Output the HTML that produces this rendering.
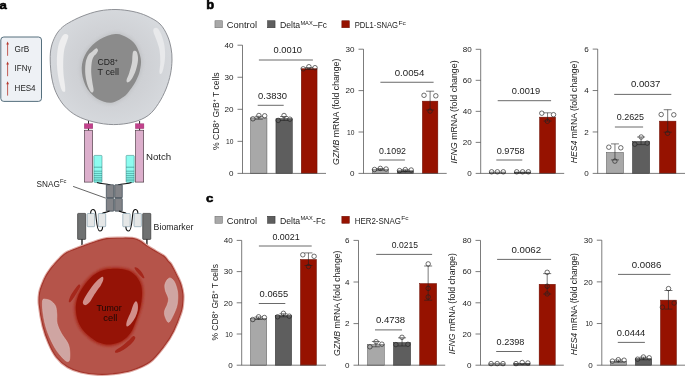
<!DOCTYPE html>
<html><head><meta charset="utf-8"><title>Figure</title>
<style>
html,body{margin:0;padding:0;background:#fff;}
body{width:685px;height:377px;overflow:hidden;font-family:"Liberation Sans",sans-serif;}
svg{display:block;font-family:"Liberation Sans",sans-serif;}
</style></head><body>
<svg width="685" height="377" viewBox="0 0 685 377" style="opacity:0.999">
<rect width="685" height="377" fill="#fff"/>
<defs>
<radialGradient id="tcg" cx="0.5" cy="0.5" r="0.55"><stop offset="0" stop-color="#c6c8cb"/><stop offset="0.55" stop-color="#cfd1d5"/><stop offset="1" stop-color="#d7dade"/></radialGradient>
<radialGradient id="tug" cx="0.5" cy="0.5" r="0.55"><stop offset="0" stop-color="#a8372c"/><stop offset="0.6" stop-color="#b5544a"/><stop offset="1" stop-color="#b5544a"/></radialGradient>
<filter id="bl" x="-20%" y="-20%" width="140%" height="140%"><feGaussianBlur stdDeviation="1.6"/></filter>
<filter id="bl3" x="-20%" y="-20%" width="140%" height="140%"><feGaussianBlur stdDeviation="0.9"/></filter>
<filter id="bl4" x="-30%" y="-20%" width="160%" height="140%"><feGaussianBlur stdDeviation="0.55"/></filter>
<filter id="bl2" x="-20%" y="-20%" width="140%" height="140%"><feGaussianBlur stdDeviation="0.5"/></filter>
</defs>
<rect x="0.8" y="37" width="40.7" height="64.4" rx="3" ry="3" fill="#eef1f5" stroke="#44606f" stroke-width="0.9"/>
<path d="M7.6 55.8V43.1" stroke="#b5372c" stroke-width="0.8" fill="none"/><path d="M7.6 41.6L6.3 44.6H8.9Z" fill="#b5372c"/>
<path d="M7.6 76.2V63.1" stroke="#b5372c" stroke-width="0.8" fill="none"/><path d="M7.6 61.6L6.3 64.6H8.9Z" fill="#b5372c"/>
<path d="M7.6 95.6V82.8" stroke="#b5372c" stroke-width="0.8" fill="none"/><path d="M7.6 81.3L6.3 84.3H8.9Z" fill="#b5372c"/>
<text x="14.6" y="51.7" font-size="8.6" fill="#222" textLength="14.6" lengthAdjust="spacingAndGlyphs">GrB</text>
<text x="14.6" y="71" font-size="8.6" fill="#222" textLength="16.8" lengthAdjust="spacingAndGlyphs">IFNγ</text>
<text x="14.6" y="91" font-size="8.6" fill="#222" textLength="21" lengthAdjust="spacingAndGlyphs">HES4</text>
<path d="M116.0 9.5C121.7 9.6 127.8 10.4 133.0 11.5C138.2 12.6 142.5 13.9 147.0 16.0C151.5 18.1 156.6 20.7 160.0 24.0C163.4 27.3 165.7 32.0 167.5 36.0C169.3 40.0 170.2 44.0 171.0 48.0C171.8 52.0 172.1 55.7 172.0 60.0C171.9 64.3 171.5 69.2 170.5 74.0C169.5 78.8 168.0 84.1 166.0 89.0C164.0 93.9 161.4 99.1 158.5 103.5C155.6 107.9 152.6 112.3 148.3 115.4C144.1 118.5 138.8 120.7 133.0 122.2C127.2 123.7 120.1 124.6 113.6 124.6C107.1 124.6 100.1 123.5 94.0 122.0C87.9 120.5 81.7 118.5 76.8 115.8C71.9 113.1 68.0 109.9 64.5 106.0C61.0 102.1 58.1 97.2 56.0 92.5C53.9 87.8 52.8 83.4 51.8 78.0C50.8 72.6 50.3 65.2 50.2 60.0C50.1 54.8 50.4 51.0 51.3 47.0C52.1 43.0 53.7 39.4 55.3 36.3C56.9 33.2 58.8 30.7 61.0 28.5C63.2 26.3 65.1 24.9 68.6 22.9C72.1 20.9 76.9 18.3 82.0 16.3C87.1 14.3 93.3 12.1 99.0 11.0C104.7 9.9 110.3 9.4 116.0 9.5Z" fill="url(#tcg)" stroke="#84878c" stroke-width="0.9"/>
<path d="M65.0 34.0C66.1 33.8 68.0 34.5 68.3 35.8C68.6 37.0 67.5 39.1 66.8 41.5C66.1 43.9 64.8 46.6 64.2 50.0C63.6 53.4 63.3 58.0 63.2 62.0C63.1 66.0 63.2 70.0 63.5 74.0C63.8 78.0 64.8 83.1 65.0 86.0C65.2 88.9 65.5 90.8 65.0 91.5C64.5 92.2 63.0 92.1 62.0 90.5C61.0 88.9 60.1 85.4 59.3 82.0C58.5 78.6 57.7 74.0 57.3 70.0C56.9 66.0 56.7 62.0 56.9 58.0C57.1 54.0 57.5 49.5 58.3 46.0C59.1 42.5 60.5 39.3 61.6 37.3C62.7 35.3 63.9 34.2 65.0 34.0Z" fill="#eeeeef" filter="url(#bl4)"/>
<path d="M154.0 28.5C154.7 27.9 156.2 27.2 157.5 28.3C158.8 29.4 160.3 32.0 161.5 35.0C162.7 38.0 163.9 42.2 164.5 46.0C165.1 49.8 165.2 54.3 165.0 58.0C164.8 61.7 164.1 65.4 163.5 68.0C162.9 70.6 162.2 72.8 161.5 73.5C160.8 74.2 159.7 74.4 159.5 72.5C159.3 70.6 160.3 65.8 160.3 62.0C160.3 58.2 160.1 53.7 159.5 50.0C158.9 46.3 157.5 43.0 156.5 40.0C155.5 37.0 153.9 33.9 153.5 32.0C153.1 30.1 153.3 29.1 154.0 28.5Z" fill="#e8e9eb" filter="url(#bl4)"/>
<path d="M115.5 34.0C120.1 33.6 123.6 35.6 127.0 37.5C130.4 39.4 133.5 41.8 135.8 45.3C138.1 48.8 140.1 54.5 140.8 58.8C141.5 63.1 140.6 67.2 139.8 71.0C139.0 74.8 137.4 78.1 135.8 81.3C134.2 84.5 132.1 87.4 130.0 90.0C127.9 92.6 126.6 94.9 123.4 97.0C120.2 99.1 115.5 102.5 111.0 102.7C106.5 102.9 100.6 101.0 96.4 98.2C92.2 95.4 88.0 90.9 85.6 85.8C83.1 80.7 81.5 73.4 81.7 67.8C81.9 62.2 83.7 56.7 86.7 52.0C89.7 47.3 94.8 42.6 99.6 39.6C104.4 36.6 110.9 34.4 115.5 34.0Z" fill="#c3c5c8" filter="url(#bl)" opacity="0.9" transform="translate(111.5 68) scale(1.06) translate(-111.5 -68)"/>
<path d="M115.5 34.0C120.1 33.6 123.6 35.6 127.0 37.5C130.4 39.4 133.5 41.8 135.8 45.3C138.1 48.8 140.1 54.5 140.8 58.8C141.5 63.1 140.6 67.2 139.8 71.0C139.0 74.8 137.4 78.1 135.8 81.3C134.2 84.5 132.1 87.4 130.0 90.0C127.9 92.6 126.6 94.9 123.4 97.0C120.2 99.1 115.5 102.5 111.0 102.7C106.5 102.9 100.6 101.0 96.4 98.2C92.2 95.4 88.0 90.9 85.6 85.8C83.1 80.7 81.5 73.4 81.7 67.8C81.9 62.2 83.7 56.7 86.7 52.0C89.7 47.3 94.8 42.6 99.6 39.6C104.4 36.6 110.9 34.4 115.5 34.0Z" fill="#8b8b8b"/>
<path d="M96.3 48.3C97.2 48.1 98.0 49.6 98.0 50.5C98.0 51.4 97.0 52.8 96.3 53.8C95.6 54.8 94.5 55.1 93.8 56.5C93.0 57.9 92.2 59.4 91.8 62.0C91.4 64.6 91.1 68.7 91.2 72.0C91.3 75.3 91.9 78.9 92.3 82.0C92.7 85.1 93.8 88.8 93.6 90.5C93.4 92.2 92.3 93.0 91.3 92.3C90.3 91.5 88.8 88.9 87.8 86.0C86.8 83.1 85.8 78.8 85.4 75.0C85.0 71.2 85.1 66.3 85.6 63.0C86.1 59.7 87.3 56.9 88.4 55.0C89.5 53.1 91.0 52.6 92.3 51.5C93.6 50.4 95.3 48.5 96.3 48.3Z" fill="#d4d4d4"/>
<path d="M133.4 51.3C134.1 50.6 136.0 50.6 136.8 52.1C137.6 53.6 138.2 57.0 138.0 60.0C137.8 63.0 136.9 66.9 135.9 70.0C134.9 73.1 133.2 76.8 131.9 78.8C130.6 80.8 129.2 82.0 128.3 82.3C127.4 82.6 126.4 82.0 126.5 80.5C126.6 79.0 128.3 75.9 129.2 73.0C130.1 70.1 131.4 65.8 131.9 63.0C132.4 60.2 132.2 58.0 132.4 56.0C132.7 54.0 132.7 51.9 133.4 51.3Z" fill="#d4d4d4"/>
<text x="97.6" y="65" font-size="8.6" fill="#222">CD8<tspan dy="-3" font-size="5">+</tspan></text>
<text x="97.6" y="75" font-size="8.6" fill="#222" textLength="21.3" lengthAdjust="spacingAndGlyphs">T cell</text>
<path d="M88.5 121V131" stroke="#111" stroke-width="0.9"/>
<rect x="84.3" y="123.8" width="8.5" height="4.8" fill="#c2418c" stroke="#8d2a63" stroke-width="0.4"/>
<rect x="84.5" y="130.2" width="8.1" height="51.9" fill="#dcafcc" stroke="#3a2a33" stroke-width="0.6"/>
<path d="M139.6 121V131" stroke="#111" stroke-width="0.9"/>
<rect x="135.4" y="123.8" width="8.5" height="4.8" fill="#c2418c" stroke="#8d2a63" stroke-width="0.4"/>
<rect x="135.6" y="130.2" width="8.1" height="51.9" fill="#dcafcc" stroke="#3a2a33" stroke-width="0.6"/>
<rect x="93.9" y="155.4" width="8.1" height="27" rx="0.8" fill="#8dfcf0" stroke="#2d7f7c" stroke-width="0.5"/>
<path d="M93.9 167.2H102.0M93.9 171.2H102.0M93.9 173.4H102.0M93.9 175.4H102.0M93.9 177.3H102.0M93.9 179.1H102.0M93.9 180.8H102.0" stroke="#1f6c6a" stroke-width="0.5" fill="none"/>
<rect x="126.1" y="155.4" width="8.1" height="27" rx="0.8" fill="#8dfcf0" stroke="#2d7f7c" stroke-width="0.5"/>
<path d="M126.1 167.2H134.2M126.1 171.2H134.2M126.1 173.4H134.2M126.1 175.4H134.2M126.1 177.3H134.2M126.1 179.1H134.2M126.1 180.8H134.2" stroke="#1f6c6a" stroke-width="0.5" fill="none"/>
<text x="145.9" y="160.3" font-size="8.8" fill="#222" textLength="25.3" lengthAdjust="spacingAndGlyphs">Notch</text>
<path d="M97 182.6C101 184.2 106 183.2 110.5 184.9" stroke="#111" stroke-width="1.1" fill="none"/>
<path d="M131.5 182.6C127.5 184.2 122.5 183.2 118 184.9" stroke="#111" stroke-width="1.1" fill="none"/>
<rect x="106.3" y="184.7" width="7.6" height="13.2" rx="0.7" fill="#838488" stroke="#23343f" stroke-width="0.6"/>
<rect x="106.3" y="198.4" width="7.6" height="12.8" rx="0.7" fill="#838488" stroke="#23343f" stroke-width="0.6"/>
<rect x="114.7" y="184.7" width="7.6" height="13.2" rx="0.7" fill="#838488" stroke="#23343f" stroke-width="0.6"/>
<rect x="114.7" y="198.4" width="7.6" height="12.8" rx="0.7" fill="#838488" stroke="#23343f" stroke-width="0.6"/>
<path d="M73.1 186.4L105.9 198.2" stroke="#222" stroke-width="0.7"/>
<text x="36.6" y="186.5" font-size="8.6" fill="#222"><tspan textLength="23.3" lengthAdjust="spacingAndGlyphs">SNAG</tspan><tspan dy="-3.4" font-size="5.8">Fc</tspan></text>
<path d="M109.5 211C106.5 212.8 104 212 102 213.6" stroke="#111" stroke-width="1.1" fill="none"/>
<path d="M119 211C122 212.8 124.5 212 126.5 213.6" stroke="#111" stroke-width="1.1" fill="none"/>
<path d="M82 239V247.5" stroke="#111" stroke-width="1.3"/>
<rect x="77.6" y="213.4" width="8.1" height="26" rx="0.7" fill="#6f7171" stroke="#222" stroke-width="0.6"/>
<path d="M146.9 239V247.5" stroke="#111" stroke-width="1.3"/>
<rect x="142.7" y="213.4" width="8.1" height="26" rx="0.7" fill="#6f7171" stroke="#222" stroke-width="0.6"/>
<rect x="87.2" y="213.5" width="7.4" height="13.2" rx="0.7" fill="#e5e7e7" stroke="#7b98a8" stroke-width="0.6"/>
<rect x="98.3" y="213.5" width="7.4" height="13.2" rx="0.7" fill="#e5e7e7" stroke="#7b98a8" stroke-width="0.6"/>
<rect x="122.8" y="213.5" width="7.4" height="13.2" rx="0.7" fill="#e5e7e7" stroke="#7b98a8" stroke-width="0.6"/>
<rect x="134" y="213.5" width="7.4" height="13.2" rx="0.7" fill="#e5e7e7" stroke="#7b98a8" stroke-width="0.6"/>
<path d="M90.6 213.4C90.8 208.5 94.8 208 95.6 213C96.6 219 96.5 231 99.8 231C102.3 231 102.6 228.5 102.6 226.8" stroke="#111" stroke-width="1.1" fill="none"/>
<path d="M137.9 213.4C137.7 208.5 133.7 208 132.9 213C131.9 219 132 231 128.7 231C126.2 231 125.9 228.5 125.9 226.8" stroke="#111" stroke-width="1.1" fill="none"/>
<text x="153.6" y="230.2" font-size="8.8" fill="#222" textLength="39.9" lengthAdjust="spacingAndGlyphs">Biomarker</text>
<path d="M120.0 238.2C124.4 238.2 130.2 238.0 133.5 238.5C136.8 239.0 137.8 239.8 140.0 241.0C142.2 242.2 144.3 244.2 146.8 245.9C149.3 247.6 152.2 249.3 155.0 251.0C157.8 252.7 161.7 254.6 163.9 256.3C166.1 258.0 166.9 259.9 168.2 261.3C169.4 262.8 169.9 262.5 171.4 265.0C172.9 267.5 175.7 273.1 177.3 276.4C178.9 279.7 180.1 282.0 181.0 285.0C181.9 288.0 182.6 291.3 182.9 294.5C183.2 297.7 182.9 301.0 182.6 304.0C182.3 307.0 182.4 308.2 180.9 312.7C179.4 317.2 176.3 325.4 173.6 330.9C170.9 336.4 168.4 340.4 164.5 345.5C160.6 350.6 155.4 357.7 150.0 361.8C144.6 365.9 138.0 368.2 131.8 370.2C125.6 372.2 118.7 373.0 113.0 373.7C107.3 374.4 103.1 374.6 97.8 374.3C92.5 374.0 86.0 373.2 81.0 372.0C76.0 370.8 71.7 369.3 67.6 366.8C63.5 364.3 59.6 361.0 56.5 357.0C53.4 353.0 51.0 348.2 48.8 343.0C46.5 337.8 44.6 332.4 43.0 326.0C41.4 319.6 39.9 310.2 39.3 304.7C38.7 299.2 39.1 296.4 39.6 293.0C40.1 289.6 41.3 286.8 42.4 284.0C43.5 281.2 44.6 278.5 46.0 276.0C47.4 273.5 49.4 270.7 50.7 268.9C52.0 267.1 52.2 266.8 53.8 265.0C55.3 263.2 57.8 260.4 60.0 258.3C62.2 256.2 63.5 254.4 67.0 252.5C70.5 250.6 76.2 248.7 81.3 246.8C86.4 244.9 93.1 242.5 97.4 241.1C101.7 239.7 103.2 239.1 107.0 238.6C110.8 238.1 115.6 238.2 120.0 238.2Z" fill="none" stroke="#dfaaa4" stroke-width="3.2" filter="url(#bl2)"/>
<path d="M120.0 238.2C124.4 238.2 130.2 238.0 133.5 238.5C136.8 239.0 137.8 239.8 140.0 241.0C142.2 242.2 144.3 244.2 146.8 245.9C149.3 247.6 152.2 249.3 155.0 251.0C157.8 252.7 161.7 254.6 163.9 256.3C166.1 258.0 166.9 259.9 168.2 261.3C169.4 262.8 169.9 262.5 171.4 265.0C172.9 267.5 175.7 273.1 177.3 276.4C178.9 279.7 180.1 282.0 181.0 285.0C181.9 288.0 182.6 291.3 182.9 294.5C183.2 297.7 182.9 301.0 182.6 304.0C182.3 307.0 182.4 308.2 180.9 312.7C179.4 317.2 176.3 325.4 173.6 330.9C170.9 336.4 168.4 340.4 164.5 345.5C160.6 350.6 155.4 357.7 150.0 361.8C144.6 365.9 138.0 368.2 131.8 370.2C125.6 372.2 118.7 373.0 113.0 373.7C107.3 374.4 103.1 374.6 97.8 374.3C92.5 374.0 86.0 373.2 81.0 372.0C76.0 370.8 71.7 369.3 67.6 366.8C63.5 364.3 59.6 361.0 56.5 357.0C53.4 353.0 51.0 348.2 48.8 343.0C46.5 337.8 44.6 332.4 43.0 326.0C41.4 319.6 39.9 310.2 39.3 304.7C38.7 299.2 39.1 296.4 39.6 293.0C40.1 289.6 41.3 286.8 42.4 284.0C43.5 281.2 44.6 278.5 46.0 276.0C47.4 273.5 49.4 270.7 50.7 268.9C52.0 267.1 52.2 266.8 53.8 265.0C55.3 263.2 57.8 260.4 60.0 258.3C62.2 256.2 63.5 254.4 67.0 252.5C70.5 250.6 76.2 248.7 81.3 246.8C86.4 244.9 93.1 242.5 97.4 241.1C101.7 239.7 103.2 239.1 107.0 238.6C110.8 238.1 115.6 238.2 120.0 238.2Z" fill="#b5544a" stroke="#a2342a" stroke-width="1.1"/>
<path d="M42.6 300.5C43.1 298.2 44.6 299.2 46.0 299.3C47.4 299.4 49.4 299.9 51.0 301.0C52.6 302.1 54.5 303.8 55.5 306.0C56.5 308.2 56.5 311.1 56.8 314.0C57.1 316.9 56.4 320.2 57.2 323.5C58.0 326.8 59.7 330.2 61.5 333.5C63.3 336.8 66.6 340.4 68.0 343.5C69.4 346.6 69.6 349.2 69.8 352.0C70.0 354.8 69.9 359.0 69.3 360.5C68.7 362.0 67.5 361.8 66.0 361.0C64.5 360.2 62.3 357.6 60.5 355.5C58.7 353.4 57.1 351.6 55.3 348.5C53.5 345.4 51.1 340.7 49.5 337.0C47.9 333.3 46.8 330.5 45.7 326.5C44.6 322.5 43.5 317.3 43.0 313.0C42.5 308.7 42.1 302.8 42.6 300.5Z" fill="#cfa5a2" stroke="#e0c0bd" stroke-width="0.5"/>
<path d="M170.3 278.0C171.6 278.3 173.3 279.7 174.5 282.0C175.7 284.3 177.1 288.3 177.6 292.0C178.1 295.7 177.9 300.3 177.3 304.0C176.7 307.7 175.2 310.9 173.8 314.0C172.4 317.1 170.2 321.8 168.8 322.3C167.4 322.8 165.9 318.9 165.2 317.0C164.5 315.1 164.2 313.2 164.6 311.0C165.0 308.8 166.9 306.1 167.5 304.0C168.1 301.9 168.7 300.7 168.4 298.5C168.1 296.3 166.1 293.2 165.5 291.0C164.9 288.8 164.6 286.8 164.8 285.0C165.1 283.2 166.1 281.2 167.0 280.0C167.9 278.8 169.1 277.7 170.3 278.0Z" fill="#cfa5a2" stroke="#e0c0bd" stroke-width="0.5"/>
<path d="M115.4 268.8C118.6 268.9 122.3 269.2 125.0 269.8C127.7 270.4 129.7 271.2 131.8 272.6C133.9 274.0 136.0 275.9 137.5 278.0C139.0 280.1 140.2 282.5 141.0 285.0C141.8 287.5 141.9 290.0 142.0 292.8C142.1 295.6 141.7 299.1 141.3 302.0C140.9 304.9 140.5 307.1 139.5 310.4C138.5 313.7 137.0 318.2 135.5 322.0C134.0 325.8 132.8 329.9 130.5 333.1C128.2 336.3 125.3 339.1 122.0 341.0C118.7 342.9 114.2 344.2 110.4 344.5C106.6 344.8 102.4 343.8 99.0 342.5C95.6 341.2 93.0 339.2 90.2 337.0C87.5 334.8 84.6 332.3 82.5 329.5C80.4 326.7 78.7 323.6 77.6 320.0C76.5 316.4 75.8 311.7 75.8 307.9C75.8 304.1 76.7 300.4 77.8 297.0C78.9 293.6 80.6 290.7 82.6 287.7C84.5 284.7 87.0 281.5 89.5 279.0C92.0 276.5 95.0 274.2 97.8 272.6C100.5 271.0 103.1 270.1 106.0 269.5C108.9 268.9 112.2 268.8 115.4 268.8Z" fill="#a8291d" filter="url(#bl3)" transform="translate(109.5 306) scale(1.045) translate(-109.5 -306)"/>
<path d="M115.4 268.8C118.6 268.9 122.3 269.2 125.0 269.8C127.7 270.4 129.7 271.2 131.8 272.6C133.9 274.0 136.0 275.9 137.5 278.0C139.0 280.1 140.2 282.5 141.0 285.0C141.8 287.5 141.9 290.0 142.0 292.8C142.1 295.6 141.7 299.1 141.3 302.0C140.9 304.9 140.5 307.1 139.5 310.4C138.5 313.7 137.0 318.2 135.5 322.0C134.0 325.8 132.8 329.9 130.5 333.1C128.2 336.3 125.3 339.1 122.0 341.0C118.7 342.9 114.2 344.2 110.4 344.5C106.6 344.8 102.4 343.8 99.0 342.5C95.6 341.2 93.0 339.2 90.2 337.0C87.5 334.8 84.6 332.3 82.5 329.5C80.4 326.7 78.7 323.6 77.6 320.0C76.5 316.4 75.8 311.7 75.8 307.9C75.8 304.1 76.7 300.4 77.8 297.0C78.9 293.6 80.6 290.7 82.6 287.7C84.5 284.7 87.0 281.5 89.5 279.0C92.0 276.5 95.0 274.2 97.8 272.6C100.5 271.0 103.1 270.1 106.0 269.5C108.9 268.9 112.2 268.8 115.4 268.8Z" fill="#951306"/>
<path d="M102.3 276.8C103.4 276.5 103.5 278.1 103.3 279.5C103.1 280.9 101.9 283.3 101.0 285.0C100.1 286.7 99.0 287.7 97.8 289.5C96.5 291.3 94.8 293.9 93.5 296.0C92.2 298.1 91.2 300.3 90.0 301.8C88.8 303.3 87.1 304.6 86.0 305.0C84.9 305.4 83.8 304.8 83.3 304.0C82.8 303.2 82.6 302.3 83.3 300.5C84.0 298.7 86.0 295.3 87.5 293.0C89.0 290.7 90.5 288.5 92.0 286.5C93.5 284.5 94.8 282.8 96.5 281.2C98.2 279.6 101.2 277.1 102.3 276.8Z" fill="#d18f8a"/>
<path d="M135.8 301.3C136.6 301.1 137.4 302.5 137.7 304.0C138.0 305.5 138.1 308.3 137.7 310.5C137.3 312.7 136.5 314.9 135.5 317.0C134.5 319.1 132.8 321.4 131.5 323.0C130.2 324.6 128.9 325.9 128.0 326.3C127.1 326.7 126.4 326.2 126.3 325.2C126.2 324.1 126.5 322.2 127.3 320.0C128.1 317.8 129.9 314.4 130.8 312.0C131.8 309.6 132.2 307.3 133.0 305.5C133.8 303.7 135.0 301.6 135.8 301.3Z" fill="#d18f8a"/>
<path d="M78.5 284.8C79.4 284.3 80.5 284.9 80.3 286.2C80.0 287.5 78.3 290.3 77.0 292.5C75.7 294.7 73.7 297.9 72.5 299.5C71.3 301.1 70.6 301.9 70.0 302.2C69.4 302.4 68.6 302.2 68.8 301.0C69.0 299.8 70.0 297.0 71.0 295.0C72.0 293.0 73.8 290.7 75.0 289.0C76.2 287.3 77.6 285.3 78.5 284.8Z" fill="#a5271b"/>
<path d="M134.6 267.5C134.9 267.1 136.3 267.2 137.5 268.0C138.7 268.8 140.4 270.5 141.5 272.0C142.6 273.5 144.0 276.2 144.3 277.2C144.6 278.2 144.0 278.6 143.2 278.2C142.4 277.8 140.7 276.1 139.5 274.8C138.3 273.5 136.6 271.7 135.8 270.5C135.0 269.3 134.3 267.9 134.6 267.5Z" fill="#a5271b"/>
<path d="M133.2 336.0C134.3 335.6 135.5 336.8 135.3 338.0C135.1 339.2 133.6 341.2 132.0 343.0C130.4 344.8 127.8 346.9 125.5 348.5C123.2 350.1 120.2 351.6 118.5 352.3C116.8 353.0 115.6 352.9 115.2 352.5C114.8 352.1 114.9 351.1 116.0 350.0C117.1 348.9 119.9 347.6 122.0 346.0C124.1 344.4 126.6 342.2 128.5 340.5C130.4 338.8 132.1 336.4 133.2 336.0Z" fill="#a5271b"/>
<text x="96.5" y="311.2" font-size="8.6" fill="#1c0805" textLength="25.2" lengthAdjust="spacingAndGlyphs">Tumor</text>
<text x="103.3" y="321.3" font-size="8.6" fill="#1c0805" textLength="14" lengthAdjust="spacingAndGlyphs">cell</text>
<rect x="250.65" y="117.95" width="16.299999999999983" height="55.45" fill="#a8a8a8" stroke="#525252" stroke-width="0.5"/>
<rect x="275.95" y="118.75" width="16.30000000000001" height="54.650000000000006" fill="#5e5e5e" stroke="#202020" stroke-width="0.5"/>
<rect x="301.25" y="68.75" width="15.800000000000011" height="104.65" fill="#961200" stroke="#6a0c00" stroke-width="0.5"/>
<path d="M242.5 45.2V173.4" stroke="#505050" stroke-width="0.75" fill="none"/>
<path d="M237.5 173.4H326" stroke="#505050" stroke-width="0.75" fill="none"/>
<text x="229.0" y="176.1" font-size="7.6" text-anchor="start" fill="#222" font-weight="normal" font-style="normal" textLength="4.5" lengthAdjust="spacingAndGlyphs" >0</text>
<path d="M237.5 141.35000000000002H242.5" stroke="#505050" stroke-width="0.75" fill="none"/>
<text x="226.1" y="144.05" font-size="7.6" text-anchor="start" fill="#222" font-weight="normal" font-style="normal" textLength="7.4" lengthAdjust="spacingAndGlyphs" >10</text>
<path d="M237.5 109.30000000000001H242.5" stroke="#505050" stroke-width="0.75" fill="none"/>
<text x="224.5" y="112.00000000000001" font-size="7.6" text-anchor="start" fill="#222" font-weight="normal" font-style="normal" textLength="9.0" lengthAdjust="spacingAndGlyphs" >20</text>
<path d="M237.5 77.25000000000001H242.5" stroke="#505050" stroke-width="0.75" fill="none"/>
<text x="224.5" y="79.95000000000002" font-size="7.6" text-anchor="start" fill="#222" font-weight="normal" font-style="normal" textLength="9.0" lengthAdjust="spacingAndGlyphs" >30</text>
<path d="M237.5 45.20000000000002H242.5" stroke="#505050" stroke-width="0.75" fill="none"/>
<text x="224.5" y="47.90000000000002" font-size="7.6" text-anchor="start" fill="#222" font-weight="normal" font-style="normal" textLength="9.0" lengthAdjust="spacingAndGlyphs" >40</text>
<path d="M258.8 116.3V119.2M254.8 116.3H262.8M254.8 119.2H262.8" stroke="#222" stroke-width="0.6" fill="none"/>
<circle cx="252.9" cy="118.8" r="2.25" fill="none" stroke="#222" stroke-width="0.65"/>
<circle cx="258.9" cy="115.5" r="2.25" fill="none" stroke="#222" stroke-width="0.65"/>
<circle cx="264.7" cy="115.8" r="2.25" fill="none" stroke="#222" stroke-width="0.65"/>
<path d="M284.1 116.5V120.5M280.1 116.5H288.1M280.1 120.5H288.1" stroke="#222" stroke-width="0.6" fill="none"/>
<circle cx="278.2" cy="120.4" r="2.25" fill="none" stroke="#222" stroke-width="0.65"/>
<circle cx="284" cy="115.5" r="2.25" fill="none" stroke="#222" stroke-width="0.65"/>
<circle cx="289.9" cy="119.2" r="2.25" fill="none" stroke="#222" stroke-width="0.65"/>
<path d="M309.15 67.6V69.4M305.15 67.6H313.15M305.15 69.4H313.15" stroke="#222" stroke-width="0.6" fill="none"/>
<circle cx="303.2" cy="68.8" r="2.25" fill="none" stroke="#222" stroke-width="0.65"/>
<circle cx="308.9" cy="66.7" r="2.25" fill="none" stroke="#222" stroke-width="0.65"/>
<circle cx="315" cy="67.7" r="2.25" fill="none" stroke="#222" stroke-width="0.65"/>
<path d="M258.9 60H312.9" stroke="#444" stroke-width="0.8" fill="none"/>
<text x="273.5" y="53.2" font-size="8.6" text-anchor="start" fill="#222" font-weight="normal" font-style="normal" textLength="28.5" lengthAdjust="spacingAndGlyphs" >0.0010</text>
<path d="M257.7 105.3H283.7" stroke="#444" stroke-width="0.8" fill="none"/>
<text x="258" y="98.9" font-size="8.6" text-anchor="start" fill="#222" font-weight="normal" font-style="normal" textLength="28.9" lengthAdjust="spacingAndGlyphs" >0.3830</text>
<g transform="translate(218.5 111.2) rotate(-90)"><text x="0" y="0" font-size="8.6" text-anchor="middle" fill="#222" textLength="77.6" lengthAdjust="spacingAndGlyphs">% CD8<tspan dy="-2.8" font-size="5.2">+</tspan><tspan dy="2.8"> GrB</tspan><tspan dy="-2.8" font-size="5.2">+</tspan><tspan dy="2.8"> T cells</tspan></text></g>
<rect x="372.25" y="169.65" width="16.0" height="3.75" fill="#a8a8a8" stroke="#525252" stroke-width="0.5"/>
<rect x="397.35" y="170.85" width="16.0" height="2.5500000000000114" fill="#5e5e5e" stroke="#202020" stroke-width="0.5"/>
<rect x="422.35" y="101.15" width="15.5" height="72.25" fill="#961200" stroke="#6a0c00" stroke-width="0.5"/>
<path d="M363.5 49.2V173.4" stroke="#505050" stroke-width="0.75" fill="none"/>
<path d="M358.5 173.4H446.7" stroke="#505050" stroke-width="0.75" fill="none"/>
<text x="350.0" y="176.1" font-size="7.6" text-anchor="start" fill="#222" font-weight="normal" font-style="normal" textLength="4.5" lengthAdjust="spacingAndGlyphs" >0</text>
<path d="M358.5 132.0H363.5" stroke="#505050" stroke-width="0.75" fill="none"/>
<text x="347.1" y="134.7" font-size="7.6" text-anchor="start" fill="#222" font-weight="normal" font-style="normal" textLength="7.4" lengthAdjust="spacingAndGlyphs" >10</text>
<path d="M358.5 90.60000000000001H363.5" stroke="#505050" stroke-width="0.75" fill="none"/>
<text x="345.5" y="93.30000000000001" font-size="7.6" text-anchor="start" fill="#222" font-weight="normal" font-style="normal" textLength="9.0" lengthAdjust="spacingAndGlyphs" >20</text>
<path d="M358.5 49.2H363.5" stroke="#505050" stroke-width="0.75" fill="none"/>
<text x="345.5" y="51.900000000000006" font-size="7.6" text-anchor="start" fill="#222" font-weight="normal" font-style="normal" textLength="9.0" lengthAdjust="spacingAndGlyphs" >30</text>
<path d="M380.25 168.6V170.2M376.25 168.6H384.25M376.25 170.2H384.25" stroke="#222" stroke-width="0.6" fill="none"/>
<circle cx="374.5" cy="169.5" r="2.25" fill="none" stroke="#222" stroke-width="0.65"/>
<circle cx="380.3" cy="168.4" r="2.25" fill="none" stroke="#222" stroke-width="0.65"/>
<circle cx="386.1" cy="169.0" r="2.25" fill="none" stroke="#222" stroke-width="0.65"/>
<path d="M405.35 169.8V171.4M401.35 169.8H409.35M401.35 171.4H409.35" stroke="#222" stroke-width="0.6" fill="none"/>
<circle cx="399.5" cy="170.6" r="2.25" fill="none" stroke="#222" stroke-width="0.65"/>
<circle cx="405.3" cy="169.6" r="2.25" fill="none" stroke="#222" stroke-width="0.65"/>
<circle cx="411.2" cy="170.0" r="2.25" fill="none" stroke="#222" stroke-width="0.65"/>
<path d="M430.1 91.2V110M426.1 91.2H434.1M426.1 110H434.1" stroke="#222" stroke-width="0.6" fill="none"/>
<circle cx="424" cy="95.3" r="2.25" fill="none" stroke="#222" stroke-width="0.65"/>
<circle cx="435.8" cy="95.8" r="2.25" fill="none" stroke="#222" stroke-width="0.65"/>
<circle cx="430.1" cy="111.1" r="2.25" fill="none" stroke="#222" stroke-width="0.65"/>
<path d="M380.4 82.25H433.6" stroke="#444" stroke-width="0.8" fill="none"/>
<text x="394.7" y="75.7" font-size="8.6" text-anchor="start" fill="#222" font-weight="normal" font-style="normal" textLength="29.6" lengthAdjust="spacingAndGlyphs" >0.0054</text>
<path d="M379 160.0H404.9" stroke="#444" stroke-width="0.8" fill="none"/>
<text x="379" y="153.7" font-size="8.6" text-anchor="start" fill="#222" font-weight="normal" font-style="normal" textLength="27" lengthAdjust="spacingAndGlyphs" >0.1092</text>
<g transform="translate(338.8 111.8) rotate(-90)"><text x="0" y="0" font-size="8.6" text-anchor="middle" fill="#222" textLength="106.2" lengthAdjust="spacingAndGlyphs"><tspan font-style="italic">GZMB</tspan> mRNA (fold change)</text></g>
<rect x="489.25" y="172.05" width="16.100000000000023" height="1.3499999999999943" fill="#a8a8a8" stroke="#525252" stroke-width="0.5"/>
<rect x="514.25" y="172.05" width="16.100000000000023" height="1.3499999999999943" fill="#5e5e5e" stroke="#202020" stroke-width="0.5"/>
<rect x="539.55" y="117.15" width="16.0" height="56.25" fill="#961200" stroke="#6a0c00" stroke-width="0.5"/>
<path d="M480.7 49.3V173.4" stroke="#505050" stroke-width="0.75" fill="none"/>
<path d="M475.7 173.4H564.2" stroke="#505050" stroke-width="0.75" fill="none"/>
<text x="467.2" y="176.1" font-size="7.6" text-anchor="start" fill="#222" font-weight="normal" font-style="normal" textLength="4.5" lengthAdjust="spacingAndGlyphs" >0</text>
<path d="M475.7 142.375H480.7" stroke="#505050" stroke-width="0.75" fill="none"/>
<text x="462.7" y="145.075" font-size="7.6" text-anchor="start" fill="#222" font-weight="normal" font-style="normal" textLength="9.0" lengthAdjust="spacingAndGlyphs" >20</text>
<path d="M475.7 111.35H480.7" stroke="#505050" stroke-width="0.75" fill="none"/>
<text x="462.7" y="114.05" font-size="7.6" text-anchor="start" fill="#222" font-weight="normal" font-style="normal" textLength="9.0" lengthAdjust="spacingAndGlyphs" >40</text>
<path d="M475.7 80.325H480.7" stroke="#505050" stroke-width="0.75" fill="none"/>
<text x="462.7" y="83.025" font-size="7.6" text-anchor="start" fill="#222" font-weight="normal" font-style="normal" textLength="9.0" lengthAdjust="spacingAndGlyphs" >60</text>
<path d="M475.7 49.3H480.7" stroke="#505050" stroke-width="0.75" fill="none"/>
<text x="462.7" y="52.0" font-size="7.6" text-anchor="start" fill="#222" font-weight="normal" font-style="normal" textLength="9.0" lengthAdjust="spacingAndGlyphs" >80</text>
<circle cx="491.6" cy="171.8" r="2.25" fill="none" stroke="#222" stroke-width="0.65"/>
<circle cx="497.4" cy="171.8" r="2.25" fill="none" stroke="#222" stroke-width="0.65"/>
<circle cx="503.3" cy="171.8" r="2.25" fill="none" stroke="#222" stroke-width="0.65"/>
<circle cx="516.7" cy="171.8" r="2.25" fill="none" stroke="#222" stroke-width="0.65"/>
<circle cx="522.6" cy="171.8" r="2.25" fill="none" stroke="#222" stroke-width="0.65"/>
<circle cx="528.4" cy="171.8" r="2.25" fill="none" stroke="#222" stroke-width="0.65"/>
<path d="M547.55 112.8V121M543.55 112.8H551.55M543.55 121H551.55" stroke="#222" stroke-width="0.6" fill="none"/>
<circle cx="541.8" cy="113.2" r="2.25" fill="none" stroke="#222" stroke-width="0.65"/>
<circle cx="553.5" cy="114.7" r="2.25" fill="none" stroke="#222" stroke-width="0.65"/>
<circle cx="547.4" cy="121.3" r="2.25" fill="none" stroke="#222" stroke-width="0.65"/>
<path d="M497.7 100.7H551.1" stroke="#444" stroke-width="0.8" fill="none"/>
<text x="511.8" y="94.1" font-size="8.6" text-anchor="start" fill="#222" font-weight="normal" font-style="normal" textLength="28.4" lengthAdjust="spacingAndGlyphs" >0.0019</text>
<path d="M496.3 160.0H522.3" stroke="#444" stroke-width="0.8" fill="none"/>
<text x="496.7" y="153.8" font-size="8.6" text-anchor="start" fill="#222" font-weight="normal" font-style="normal" textLength="28.0" lengthAdjust="spacingAndGlyphs" >0.9758</text>
<g transform="translate(456.7 111.9) rotate(-90)"><text x="0" y="0" font-size="8.6" text-anchor="middle" fill="#222" textLength="103" lengthAdjust="spacingAndGlyphs"><tspan font-style="italic">IFNG</tspan> mRNA (fold change)</text></g>
<rect x="606.45" y="152.45" width="17.0" height="20.950000000000017" fill="#a8a8a8" stroke="#525252" stroke-width="0.5"/>
<rect x="632.55" y="141.55" width="17.0" height="31.849999999999994" fill="#5e5e5e" stroke="#202020" stroke-width="0.5"/>
<rect x="659.45" y="121.15" width="16.5" height="52.25" fill="#961200" stroke="#6a0c00" stroke-width="0.5"/>
<path d="M597.7 49.1V173.4" stroke="#505050" stroke-width="0.75" fill="none"/>
<path d="M592.7 173.4H685" stroke="#505050" stroke-width="0.75" fill="none"/>
<text x="584.2" y="176.1" font-size="7.6" text-anchor="start" fill="#222" font-weight="normal" font-style="normal" textLength="4.5" lengthAdjust="spacingAndGlyphs" >0</text>
<path d="M592.7 131.96666666666667H597.7" stroke="#505050" stroke-width="0.75" fill="none"/>
<text x="584.2" y="134.66666666666666" font-size="7.6" text-anchor="start" fill="#222" font-weight="normal" font-style="normal" textLength="4.5" lengthAdjust="spacingAndGlyphs" >2</text>
<path d="M592.7 90.53333333333333H597.7" stroke="#505050" stroke-width="0.75" fill="none"/>
<text x="584.2" y="93.23333333333333" font-size="7.6" text-anchor="start" fill="#222" font-weight="normal" font-style="normal" textLength="4.5" lengthAdjust="spacingAndGlyphs" >4</text>
<path d="M592.7 49.099999999999994H597.7" stroke="#505050" stroke-width="0.75" fill="none"/>
<text x="584.2" y="51.8" font-size="7.6" text-anchor="start" fill="#222" font-weight="normal" font-style="normal" textLength="4.5" lengthAdjust="spacingAndGlyphs" >6</text>
<path d="M614.95 143.9V159.9M610.95 143.9H618.95M610.95 159.9H618.95" stroke="#222" stroke-width="0.6" fill="none"/>
<circle cx="608.8" cy="147.2" r="2.25" fill="none" stroke="#222" stroke-width="0.65"/>
<circle cx="620.8" cy="147.8" r="2.25" fill="none" stroke="#222" stroke-width="0.65"/>
<circle cx="614.9" cy="161.1" r="2.25" fill="none" stroke="#222" stroke-width="0.65"/>
<path d="M641.05 137V144.6M637.05 137H645.05M637.05 144.6H645.05" stroke="#222" stroke-width="0.6" fill="none"/>
<circle cx="641.2" cy="137" r="2.25" fill="none" stroke="#222" stroke-width="0.65"/>
<circle cx="634.8" cy="144.2" r="2.25" fill="none" stroke="#222" stroke-width="0.65"/>
<circle cx="647.2" cy="143.1" r="2.25" fill="none" stroke="#222" stroke-width="0.65"/>
<path d="M667.7 109.7V132.2M663.7 109.7H671.7M663.7 132.2H671.7" stroke="#222" stroke-width="0.6" fill="none"/>
<circle cx="661.2" cy="114.5" r="2.25" fill="none" stroke="#222" stroke-width="0.65"/>
<circle cx="673.8" cy="114.8" r="2.25" fill="none" stroke="#222" stroke-width="0.65"/>
<circle cx="667.6" cy="133.3" r="2.25" fill="none" stroke="#222" stroke-width="0.65"/>
<path d="M614.2 94.4H671.3" stroke="#444" stroke-width="0.8" fill="none"/>
<text x="631" y="87.3" font-size="8.6" text-anchor="start" fill="#222" font-weight="normal" font-style="normal" textLength="29.3" lengthAdjust="spacingAndGlyphs" >0.0037</text>
<path d="M614.9 127.0H643.1" stroke="#444" stroke-width="0.8" fill="none"/>
<text x="616.7" y="120" font-size="8.6" text-anchor="start" fill="#222" font-weight="normal" font-style="normal" textLength="27.4" lengthAdjust="spacingAndGlyphs" >0.2625</text>
<g transform="translate(577.4 112) rotate(-90)"><text x="0" y="0" font-size="8.6" text-anchor="middle" fill="#222" textLength="102.5" lengthAdjust="spacingAndGlyphs"><tspan font-style="italic">HES4</tspan> mRNA (fold change)</text></g>
<rect x="250.55" y="318.45" width="16.099999999999966" height="46.75" fill="#a8a8a8" stroke="#525252" stroke-width="0.5"/>
<rect x="275.35" y="315.55" width="16.19999999999999" height="49.64999999999998" fill="#5e5e5e" stroke="#202020" stroke-width="0.5"/>
<rect x="300.45" y="259.45" width="16.0" height="105.75" fill="#961200" stroke="#6a0c00" stroke-width="0.5"/>
<path d="M241.7 240.4V365.2" stroke="#505050" stroke-width="0.75" fill="none"/>
<path d="M236.7 365.2H326" stroke="#505050" stroke-width="0.75" fill="none"/>
<text x="228.2" y="367.9" font-size="7.6" text-anchor="start" fill="#222" font-weight="normal" font-style="normal" textLength="4.5" lengthAdjust="spacingAndGlyphs" >0</text>
<path d="M236.7 334.0H241.7" stroke="#505050" stroke-width="0.75" fill="none"/>
<text x="225.29999999999998" y="336.7" font-size="7.6" text-anchor="start" fill="#222" font-weight="normal" font-style="normal" textLength="7.4" lengthAdjust="spacingAndGlyphs" >10</text>
<path d="M236.7 302.8H241.7" stroke="#505050" stroke-width="0.75" fill="none"/>
<text x="223.7" y="305.5" font-size="7.6" text-anchor="start" fill="#222" font-weight="normal" font-style="normal" textLength="9.0" lengthAdjust="spacingAndGlyphs" >20</text>
<path d="M236.7 271.6H241.7" stroke="#505050" stroke-width="0.75" fill="none"/>
<text x="223.7" y="274.3" font-size="7.6" text-anchor="start" fill="#222" font-weight="normal" font-style="normal" textLength="9.0" lengthAdjust="spacingAndGlyphs" >30</text>
<path d="M236.7 240.4H241.7" stroke="#505050" stroke-width="0.75" fill="none"/>
<text x="223.7" y="243.1" font-size="7.6" text-anchor="start" fill="#222" font-weight="normal" font-style="normal" textLength="9.0" lengthAdjust="spacingAndGlyphs" >40</text>
<path d="M258.6 317V319.5M254.60000000000002 317H262.6M254.60000000000002 319.5H262.6" stroke="#222" stroke-width="0.6" fill="none"/>
<circle cx="252.8" cy="319.5" r="2.25" fill="none" stroke="#222" stroke-width="0.65"/>
<circle cx="258.6" cy="316.8" r="2.25" fill="none" stroke="#222" stroke-width="0.65"/>
<circle cx="264.4" cy="317.5" r="2.25" fill="none" stroke="#222" stroke-width="0.65"/>
<path d="M283.45000000000005 313.8V316.8M279.45000000000005 313.8H287.45000000000005M279.45000000000005 316.8H287.45000000000005" stroke="#222" stroke-width="0.6" fill="none"/>
<circle cx="277.6" cy="316.8" r="2.25" fill="none" stroke="#222" stroke-width="0.65"/>
<circle cx="283.4" cy="313.3" r="2.25" fill="none" stroke="#222" stroke-width="0.65"/>
<circle cx="289.3" cy="316.2" r="2.25" fill="none" stroke="#222" stroke-width="0.65"/>
<path d="M308.45 252.9V265.5M304.45 252.9H312.45M304.45 265.5H312.45" stroke="#222" stroke-width="0.6" fill="none"/>
<circle cx="302.8" cy="254.8" r="2.25" fill="none" stroke="#222" stroke-width="0.65"/>
<circle cx="314.1" cy="256.3" r="2.25" fill="none" stroke="#222" stroke-width="0.65"/>
<circle cx="308.5" cy="266.5" r="2.25" fill="none" stroke="#222" stroke-width="0.65"/>
<path d="M258.9 246.0H311.7" stroke="#444" stroke-width="0.8" fill="none"/>
<text x="272.4" y="239.6" font-size="8.6" text-anchor="start" fill="#222" font-weight="normal" font-style="normal" textLength="27.3" lengthAdjust="spacingAndGlyphs" >0.0021</text>
<path d="M258.8 303.5H285.3" stroke="#444" stroke-width="0.8" fill="none"/>
<text x="259.6" y="297.3" font-size="8.6" text-anchor="start" fill="#222" font-weight="normal" font-style="normal" textLength="28.6" lengthAdjust="spacingAndGlyphs" >0.0655</text>
<g transform="translate(218 302.3) rotate(-90)"><text x="0" y="0" font-size="8.6" text-anchor="middle" fill="#222" textLength="76.5" lengthAdjust="spacingAndGlyphs">% CD8<tspan dy="-2.8" font-size="5.2">+</tspan><tspan dy="2.8"> GrB</tspan><tspan dy="-2.8" font-size="5.2">+</tspan><tspan dy="2.8"> T cells</tspan></text></g>
<rect x="367.55" y="344.55" width="16.69999999999999" height="20.649999999999977" fill="#a8a8a8" stroke="#525252" stroke-width="0.5"/>
<rect x="393.55" y="342.65" width="17.0" height="22.55000000000001" fill="#5e5e5e" stroke="#202020" stroke-width="0.5"/>
<rect x="419.65" y="283.55" width="17.0" height="81.64999999999998" fill="#961200" stroke="#6a0c00" stroke-width="0.5"/>
<path d="M358.5 240.4V365.2" stroke="#505050" stroke-width="0.75" fill="none"/>
<path d="M353.5 365.2H445.2" stroke="#505050" stroke-width="0.75" fill="none"/>
<text x="345.0" y="367.9" font-size="7.6" text-anchor="start" fill="#222" font-weight="normal" font-style="normal" textLength="4.5" lengthAdjust="spacingAndGlyphs" >0</text>
<path d="M353.5 323.6H358.5" stroke="#505050" stroke-width="0.75" fill="none"/>
<text x="345.0" y="326.3" font-size="7.6" text-anchor="start" fill="#222" font-weight="normal" font-style="normal" textLength="4.5" lengthAdjust="spacingAndGlyphs" >2</text>
<path d="M353.5 282.0H358.5" stroke="#505050" stroke-width="0.75" fill="none"/>
<text x="345.0" y="284.7" font-size="7.6" text-anchor="start" fill="#222" font-weight="normal" font-style="normal" textLength="4.5" lengthAdjust="spacingAndGlyphs" >4</text>
<path d="M353.5 240.39999999999998H358.5" stroke="#505050" stroke-width="0.75" fill="none"/>
<text x="345.0" y="243.09999999999997" font-size="7.6" text-anchor="start" fill="#222" font-weight="normal" font-style="normal" textLength="4.5" lengthAdjust="spacingAndGlyphs" >6</text>
<path d="M375.9 341.5V346.8M371.9 341.5H379.9M371.9 346.8H379.9" stroke="#222" stroke-width="0.6" fill="none"/>
<circle cx="369.9" cy="346.8" r="2.25" fill="none" stroke="#222" stroke-width="0.65"/>
<circle cx="376.1" cy="341.7" r="2.25" fill="none" stroke="#222" stroke-width="0.65"/>
<circle cx="381.9" cy="344.2" r="2.25" fill="none" stroke="#222" stroke-width="0.65"/>
<path d="M402.05 337.8V346M398.05 337.8H406.05M398.05 346H406.05" stroke="#222" stroke-width="0.6" fill="none"/>
<circle cx="395.9" cy="344.6" r="2.25" fill="none" stroke="#222" stroke-width="0.65"/>
<circle cx="402" cy="337.3" r="2.25" fill="none" stroke="#222" stroke-width="0.65"/>
<circle cx="407.9" cy="344.3" r="2.25" fill="none" stroke="#222" stroke-width="0.65"/>
<path d="M428.15 266V300.2M424.15 266H432.15M424.15 300.2H432.15" stroke="#222" stroke-width="0.6" fill="none"/>
<circle cx="428.2" cy="263.9" r="2.25" fill="none" stroke="#222" stroke-width="0.65"/>
<circle cx="428.2" cy="288.4" r="2.25" fill="none" stroke="#222" stroke-width="0.65"/>
<circle cx="428.2" cy="297" r="2.25" fill="none" stroke="#222" stroke-width="0.65"/>
<path d="M376.2 254.4H432.1" stroke="#444" stroke-width="0.8" fill="none"/>
<text x="391.8" y="248" font-size="8.6" text-anchor="start" fill="#222" font-weight="normal" font-style="normal" textLength="26.2" lengthAdjust="spacingAndGlyphs" >0.0215</text>
<path d="M375 329.9H402" stroke="#444" stroke-width="0.8" fill="none"/>
<text x="375.9" y="323" font-size="8.6" text-anchor="start" fill="#222" font-weight="normal" font-style="normal" textLength="29.3" lengthAdjust="spacingAndGlyphs" >0.4738</text>
<g transform="translate(340.4 303.3) rotate(-90)"><text x="0" y="0" font-size="8.6" text-anchor="middle" fill="#222" textLength="105.5" lengthAdjust="spacingAndGlyphs"><tspan font-style="italic">GZMB</tspan> mRNA (fold change)</text></g>
<rect x="488.85" y="363.75" width="16.099999999999966" height="1.4499999999999886" fill="#a8a8a8" stroke="#525252" stroke-width="0.5"/>
<rect x="513.85" y="363.45" width="16.100000000000023" height="1.75" fill="#5e5e5e" stroke="#202020" stroke-width="0.5"/>
<rect x="539.15" y="284.25" width="16.100000000000023" height="80.94999999999999" fill="#961200" stroke="#6a0c00" stroke-width="0.5"/>
<path d="M480.5 240.4V365.2" stroke="#505050" stroke-width="0.75" fill="none"/>
<path d="M475.5 365.2H563.8" stroke="#505050" stroke-width="0.75" fill="none"/>
<text x="467.0" y="367.9" font-size="7.6" text-anchor="start" fill="#222" font-weight="normal" font-style="normal" textLength="4.5" lengthAdjust="spacingAndGlyphs" >0</text>
<path d="M475.5 334.0H480.5" stroke="#505050" stroke-width="0.75" fill="none"/>
<text x="462.5" y="336.7" font-size="7.6" text-anchor="start" fill="#222" font-weight="normal" font-style="normal" textLength="9.0" lengthAdjust="spacingAndGlyphs" >20</text>
<path d="M475.5 302.8H480.5" stroke="#505050" stroke-width="0.75" fill="none"/>
<text x="462.5" y="305.5" font-size="7.6" text-anchor="start" fill="#222" font-weight="normal" font-style="normal" textLength="9.0" lengthAdjust="spacingAndGlyphs" >40</text>
<path d="M475.5 271.6H480.5" stroke="#505050" stroke-width="0.75" fill="none"/>
<text x="462.5" y="274.3" font-size="7.6" text-anchor="start" fill="#222" font-weight="normal" font-style="normal" textLength="9.0" lengthAdjust="spacingAndGlyphs" >60</text>
<path d="M475.5 240.4H480.5" stroke="#505050" stroke-width="0.75" fill="none"/>
<text x="462.5" y="243.1" font-size="7.6" text-anchor="start" fill="#222" font-weight="normal" font-style="normal" textLength="9.0" lengthAdjust="spacingAndGlyphs" >80</text>
<circle cx="491.1" cy="363.6" r="2.25" fill="none" stroke="#222" stroke-width="0.65"/>
<circle cx="497.2" cy="363.6" r="2.25" fill="none" stroke="#222" stroke-width="0.65"/>
<circle cx="503" cy="363.6" r="2.25" fill="none" stroke="#222" stroke-width="0.65"/>
<circle cx="516" cy="363.6" r="2.25" fill="none" stroke="#222" stroke-width="0.65"/>
<circle cx="522.2" cy="362.5" r="2.25" fill="none" stroke="#222" stroke-width="0.65"/>
<circle cx="527.9" cy="363" r="2.25" fill="none" stroke="#222" stroke-width="0.65"/>
<path d="M547.2 273.6V294M543.2 273.6H551.2M543.2 294H551.2" stroke="#222" stroke-width="0.6" fill="none"/>
<circle cx="547.2" cy="272.3" r="2.25" fill="none" stroke="#222" stroke-width="0.65"/>
<circle cx="547.2" cy="286.2" r="2.25" fill="none" stroke="#222" stroke-width="0.65"/>
<circle cx="547.2" cy="293.9" r="2.25" fill="none" stroke="#222" stroke-width="0.65"/>
<path d="M497.1 259.4H551.1" stroke="#444" stroke-width="0.8" fill="none"/>
<text x="511.4" y="253.2" font-size="8.6" text-anchor="start" fill="#222" font-weight="normal" font-style="normal" textLength="29.7" lengthAdjust="spacingAndGlyphs" >0.0062</text>
<path d="M496.2 351.5H521.8" stroke="#444" stroke-width="0.8" fill="none"/>
<text x="496.6" y="345.1" font-size="8.6" text-anchor="start" fill="#222" font-weight="normal" font-style="normal" textLength="27.8" lengthAdjust="spacingAndGlyphs" >0.2398</text>
<g transform="translate(454.8 303.7) rotate(-90)"><text x="0" y="0" font-size="8.6" text-anchor="middle" fill="#222" textLength="101" lengthAdjust="spacingAndGlyphs"><tspan font-style="italic">IFNG</tspan> mRNA (fold change)</text></g>
<rect x="610.35" y="361.35" width="16.299999999999955" height="3.849999999999966" fill="#a8a8a8" stroke="#525252" stroke-width="0.5"/>
<rect x="635.35" y="358.75" width="16.299999999999955" height="6.449999999999989" fill="#5e5e5e" stroke="#202020" stroke-width="0.5"/>
<rect x="660.45" y="300.15" width="16.0" height="65.05000000000001" fill="#961200" stroke="#6a0c00" stroke-width="0.5"/>
<path d="M601.8 240.2V365.2" stroke="#505050" stroke-width="0.75" fill="none"/>
<path d="M596.8 365.2H685" stroke="#505050" stroke-width="0.75" fill="none"/>
<text x="588.3" y="367.9" font-size="7.6" text-anchor="start" fill="#222" font-weight="normal" font-style="normal" textLength="4.5" lengthAdjust="spacingAndGlyphs" >0</text>
<path d="M596.8 323.5333333333333H601.8" stroke="#505050" stroke-width="0.75" fill="none"/>
<text x="585.4" y="326.2333333333333" font-size="7.6" text-anchor="start" fill="#222" font-weight="normal" font-style="normal" textLength="7.4" lengthAdjust="spacingAndGlyphs" >10</text>
<path d="M596.8 281.8666666666667H601.8" stroke="#505050" stroke-width="0.75" fill="none"/>
<text x="583.8" y="284.56666666666666" font-size="7.6" text-anchor="start" fill="#222" font-weight="normal" font-style="normal" textLength="9.0" lengthAdjust="spacingAndGlyphs" >20</text>
<path d="M596.8 240.2H601.8" stroke="#505050" stroke-width="0.75" fill="none"/>
<text x="583.8" y="242.89999999999998" font-size="7.6" text-anchor="start" fill="#222" font-weight="normal" font-style="normal" textLength="9.0" lengthAdjust="spacingAndGlyphs" >30</text>
<path d="M618.5 360V362.2M614.5 360H622.5M614.5 362.2H622.5" stroke="#222" stroke-width="0.6" fill="none"/>
<circle cx="612.4" cy="361.1" r="2.25" fill="none" stroke="#222" stroke-width="0.65"/>
<circle cx="618.3" cy="359.7" r="2.25" fill="none" stroke="#222" stroke-width="0.65"/>
<circle cx="624.1" cy="360.2" r="2.25" fill="none" stroke="#222" stroke-width="0.65"/>
<path d="M643.5 357.2V359.8M639.5 357.2H647.5M639.5 359.8H647.5" stroke="#222" stroke-width="0.6" fill="none"/>
<circle cx="637.6" cy="359.2" r="2.25" fill="none" stroke="#222" stroke-width="0.65"/>
<circle cx="643.4" cy="357" r="2.25" fill="none" stroke="#222" stroke-width="0.65"/>
<circle cx="649.2" cy="357.8" r="2.25" fill="none" stroke="#222" stroke-width="0.65"/>
<path d="M668.45 290.5V309.1M664.45 290.5H672.45M664.45 309.1H672.45" stroke="#222" stroke-width="0.6" fill="none"/>
<circle cx="668.5" cy="288.6" r="2.25" fill="none" stroke="#222" stroke-width="0.65"/>
<circle cx="662.4" cy="307.2" r="2.25" fill="none" stroke="#222" stroke-width="0.65"/>
<circle cx="674.1" cy="303" r="2.25" fill="none" stroke="#222" stroke-width="0.65"/>
<path d="M618 274.4H670.5" stroke="#444" stroke-width="0.8" fill="none"/>
<text x="631.7" y="267.9" font-size="8.6" text-anchor="start" fill="#222" font-weight="normal" font-style="normal" textLength="29.6" lengthAdjust="spacingAndGlyphs" >0.0086</text>
<path d="M617.8 342.4H644.9" stroke="#444" stroke-width="0.8" fill="none"/>
<text x="616.7" y="335.9" font-size="8.6" text-anchor="start" fill="#222" font-weight="normal" font-style="normal" textLength="28.6" lengthAdjust="spacingAndGlyphs" >0.0444</text>
<g transform="translate(577.4 304.2) rotate(-90)"><text x="0" y="0" font-size="8.6" text-anchor="middle" fill="#222" textLength="102.2" lengthAdjust="spacingAndGlyphs"><tspan font-style="italic">HES4</tspan> mRNA (fold change)</text></g>
<rect x="214.95" y="20.75" width="7.5" height="7" fill="#a8a8a8" stroke="#666" stroke-width="0.5"/>
<rect x="267.55" y="20.75" width="7.5" height="7" fill="#5e5e5e" stroke="#2a2a2a" stroke-width="0.5"/>
<rect x="341.85" y="20.75" width="7.5" height="7" fill="#961200" stroke="#6a0b00" stroke-width="0.5"/>
<text x="226.8" y="28" font-size="9" text-anchor="start" fill="#222" font-weight="normal" font-style="normal" textLength="30.2" lengthAdjust="spacingAndGlyphs" >Control</text>
<text x="279.9" y="28" font-size="9" text-anchor="start" fill="#222" font-weight="normal" font-style="normal" textLength="20.3" lengthAdjust="spacingAndGlyphs" >Delta</text>
<text x="300.4" y="24.8" font-size="5.9" text-anchor="start" fill="#222" font-weight="normal" font-style="normal" textLength="12.3" lengthAdjust="spacingAndGlyphs" >MAX</text>
<text x="313.1" y="28" font-size="9" text-anchor="start" fill="#222" font-weight="normal" font-style="normal" textLength="13.8" lengthAdjust="spacingAndGlyphs" >–Fc</text>
<text x="354.7" y="28" font-size="9" text-anchor="start" fill="#222" font-weight="normal" font-style="normal" textLength="43.4" lengthAdjust="spacingAndGlyphs" >PDL1-SNAG</text>
<text x="398.4" y="24.8" font-size="5.9" text-anchor="start" fill="#222" font-weight="normal" font-style="normal" textLength="7.3" lengthAdjust="spacingAndGlyphs" >Fc</text>
<rect x="214.95" y="216.25" width="7.5" height="7" fill="#a8a8a8" stroke="#666" stroke-width="0.5"/>
<rect x="267.55" y="216.25" width="7.5" height="7" fill="#5e5e5e" stroke="#2a2a2a" stroke-width="0.5"/>
<rect x="341.85" y="216.25" width="7.5" height="7" fill="#961200" stroke="#6a0b00" stroke-width="0.5"/>
<text x="226.8" y="223.5" font-size="9" text-anchor="start" fill="#222" font-weight="normal" font-style="normal" textLength="30.2" lengthAdjust="spacingAndGlyphs" >Control</text>
<text x="279.9" y="223.5" font-size="9" text-anchor="start" fill="#222" font-weight="normal" font-style="normal" textLength="20.3" lengthAdjust="spacingAndGlyphs" >Delta</text>
<text x="300.4" y="220.3" font-size="5.9" text-anchor="start" fill="#222" font-weight="normal" font-style="normal" textLength="12.3" lengthAdjust="spacingAndGlyphs" >MAX</text>
<text x="313.1" y="223.5" font-size="9" text-anchor="start" fill="#222" font-weight="normal" font-style="normal" textLength="12.3" lengthAdjust="spacingAndGlyphs" >-Fc</text>
<text x="354.7" y="223.5" font-size="9" text-anchor="start" fill="#222" font-weight="normal" font-style="normal" textLength="46.2" lengthAdjust="spacingAndGlyphs" >HER2-SNAG</text>
<text x="401.2" y="220.3" font-size="5.9" text-anchor="start" fill="#222" font-weight="normal" font-style="normal" textLength="7.3" lengthAdjust="spacingAndGlyphs" >Fc</text>
<text x="-0.5" y="9" font-size="11.8" text-anchor="start" fill="#000" font-weight="bold" font-style="normal" textLength="7.3" lengthAdjust="spacingAndGlyphs" stroke="#000" stroke-width="0.55">a</text>
<text x="206.2" y="9" font-size="12" text-anchor="start" fill="#000" font-weight="bold" font-style="normal" textLength="7.9" lengthAdjust="spacingAndGlyphs" stroke="#000" stroke-width="0.55">b</text>
<text x="206.0" y="201.8" font-size="11.6" text-anchor="start" fill="#000" font-weight="bold" font-style="normal" textLength="7.4" lengthAdjust="spacingAndGlyphs" stroke="#000" stroke-width="0.5">c</text>
</svg>
</body></html>
